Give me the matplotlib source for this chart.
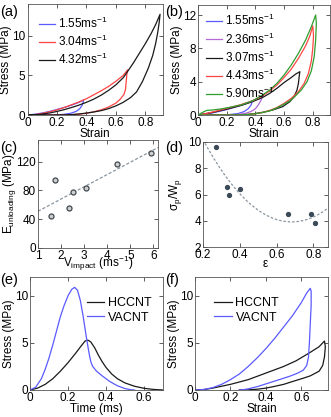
import numpy as np
import matplotlib
matplotlib.use("Agg")
import matplotlib.pyplot as plt

plt.rcParams['font.family'] = ['Liberation Sans', 'DejaVu Sans']
plt.rcParams['font.size'] = 9
plt.rcParams['mathtext.fontset'] = 'custom'
plt.rcParams['mathtext.rm'] = 'Liberation Sans'
plt.rcParams['mathtext.it'] = 'Liberation Sans:italic'

# (a) loops: strain / stress
a_blue_x = [0, 0.05, 0.1, 0.15, 0.2, 0.25, 0.3, 0.35, 0.38, 0.378, 0.37, 0.355, 0.33, 0.29, 0.24, 0.18, 0.1, 0]
a_blue_y = [0, 0.1, 0.25, 0.45, 0.7, 0.95, 1.25, 1.6, 1.9, 1.6, 1.2, 0.8, 0.45, 0.2, 0.07, 0.02, 0, 0]
a_red_x = [0, 0.05, 0.1, 0.15, 0.2, 0.25, 0.3, 0.35, 0.4, 0.45, 0.5, 0.55, 0.6, 0.65, 0.68,
           0.675, 0.67, 0.665, 0.655, 0.63, 0.6, 0.55, 0.5, 0.45, 0.4, 0.35, 0.3, 0.2, 0.1, 0]
a_red_y = [0, 0.05, 0.2, 0.4, 0.65, 0.95, 1.3, 1.65, 2.05, 2.55, 3.05, 3.6, 4.25, 5.0, 5.7,
           5.2, 4.2, 3.2, 2.6, 2.0, 1.5, 1.0, 0.65, 0.4, 0.22, 0.1, 0.04, 0, 0, 0]
a_blk_x = [0, 0.05, 0.1, 0.15, 0.2, 0.25, 0.3, 0.35, 0.4, 0.45, 0.5, 0.55, 0.6, 0.65, 0.68, 0.72,
           0.76, 0.8, 0.84, 0.87, 0.9, 0.895, 0.885, 0.87, 0.85, 0.82, 0.78, 0.74, 0.7, 0.65, 0.6,
           0.55, 0.5, 0.45, 0.4, 0.35, 0.3, 0.25, 0.15, 0]
a_blk_y = [0, 0.03, 0.12, 0.25, 0.45, 0.68, 0.95, 1.25, 1.6, 2.0, 2.5, 3.1, 3.8, 4.7, 5.5, 6.6,
           7.8, 9.0, 10.3, 11.4, 12.7, 11.8, 10.5, 9.0, 7.5, 5.9, 4.2, 2.9, 2.2, 1.6, 1.15,
           0.8, 0.55, 0.38, 0.24, 0.13, 0.05, 0.02, 0, 0]
a_labels = ['1.55ms$^{-1}$', '3.04ms$^{-1}$', '4.32ms$^{-1}$']

# (b) loops
b_blue_x = [0, 0.05, 0.1, 0.15, 0.2, 0.25, 0.3, 0.35, 0.38, 0.37, 0.35, 0.32, 0.28, 0.22, 0.15, 0]
b_blue_y = [0, 0.1, 0.25, 0.45, 0.65, 0.9, 1.15, 1.45, 1.7, 1.2, 0.75, 0.4, 0.18, 0.05, 0, 0]
b_pur_x = [0, 0.05, 0.1, 0.15, 0.2, 0.25, 0.3, 0.35, 0.4, 0.45, 0.44, 0.42, 0.4, 0.37, 0.33, 0.28, 0.2, 0]
b_pur_y = [0, 0.12, 0.28, 0.48, 0.7, 0.95, 1.2, 1.5, 1.85, 2.3, 1.8, 1.2, 0.75, 0.42, 0.2, 0.07, 0, 0]
b_blk_x = [0, 0.05, 0.1, 0.2, 0.3, 0.38, 0.45, 0.5, 0.55, 0.6, 0.65, 0.68, 0.71, 0.705, 0.7, 0.69,
           0.67, 0.64, 0.59, 0.52, 0.46, 0.4, 0.35, 0.3, 0.2, 0]
b_blk_y = [0, 0.15, 0.3, 0.7, 1.15, 1.6, 2.1, 2.6, 3.2, 3.9, 4.5, 4.9, 5.2, 4.6, 3.8, 3.0,
           2.2, 1.6, 1.0, 0.6, 0.35, 0.18, 0.08, 0.02, 0, 0]
b_red_x = [0, 0.05, 0.1, 0.2, 0.3, 0.38, 0.45, 0.5, 0.55, 0.6, 0.65, 0.7, 0.75, 0.78, 0.8,
           0.805, 0.8, 0.79, 0.77, 0.74, 0.7, 0.65, 0.6, 0.55, 0.5, 0.45, 0.4, 0.35, 0.3, 0.2, 0]
b_red_y = [0, 0.15, 0.35, 0.8, 1.25, 1.7, 2.3, 2.9, 3.6, 4.5, 5.5, 6.8, 8.3, 9.5, 10.7,
           9.5, 8.0, 6.5, 5.0, 3.8, 2.8, 2.0, 1.4, 0.9, 0.55, 0.3, 0.15, 0.06, 0.02, 0, 0]
b_grn_x = [0, 0.03, 0.06, 0.1, 0.15, 0.2, 0.3, 0.38, 0.45, 0.5, 0.55, 0.6, 0.65, 0.7, 0.75, 0.79, 0.82,
           0.825, 0.82, 0.81, 0.79, 0.76, 0.72, 0.68, 0.64, 0.6, 0.55, 0.5, 0.45, 0.4, 0.35, 0.3, 0.2, 0]
b_grn_y = [0, 0.3, 0.55, 0.6, 0.7, 0.85, 1.2, 1.7, 2.4, 3.0, 3.8, 4.8, 6.0, 7.4, 9.0, 10.6, 12.0,
           11.0, 9.0, 7.0, 5.3, 4.0, 3.0, 2.3, 1.7, 1.3, 0.85, 0.5, 0.3, 0.15, 0.06, 0.02, 0, 0]
b_labels = ['1.55ms$^{-1}$', '2.36ms$^{-1}$', '3.07ms$^{-1}$', '4.43ms$^{-1}$', '5.90ms$^{-1}$']

# (c) unloading modulus vs impact velocity
c_v = [1.55, 1.75, 2.36, 2.5, 3.07, 4.43, 5.9]
c_E = [44, 95, 55, 78, 84, 117, 132]

# (d) sigma_p / W_p vs strain
d_eps = [0.27, 0.33, 0.34, 0.40, 0.66, 0.79, 0.81]
d_ratio = [9.6, 6.6, 6.0, 6.4, 4.5, 4.5, 3.8]

# (e) stress vs time
e_t_h = [0, 0.04, 0.08, 0.12, 0.16, 0.2, 0.24, 0.27, 0.29, 0.305, 0.32, 0.34, 0.36, 0.38, 0.4,
         0.43, 0.46, 0.5, 0.55, 0.6, 0.65, 0.7]
e_s_h = [0, 0.2, 0.6, 1.2, 2.0, 2.9, 3.9, 4.7, 5.2, 5.3, 5.1, 4.5, 3.7, 3.0, 2.4,
         1.7, 1.2, 0.75, 0.4, 0.18, 0.06, 0]
e_t_v = [0, 0.03, 0.06, 0.08, 0.1, 0.12, 0.14, 0.16, 0.18, 0.2, 0.22, 0.235, 0.25, 0.265, 0.28,
         0.295, 0.31, 0.32, 0.33, 0.35, 0.38, 0.42, 0.46, 0.5, 0.53, 0.55]
e_s_v = [0, 0.3, 1.2, 2.2, 3.4, 4.8, 6.3, 7.8, 9.0, 10.0, 10.7, 10.9, 10.6, 9.5, 7.8,
         5.8, 4.0, 3.0, 2.5, 2.0, 1.5, 0.9, 0.45, 0.15, 0.03, 0]

# (f) stress vs strain
f_x_h = [0, 0.05, 0.1, 0.2, 0.3, 0.4, 0.5, 0.57, 0.65, 0.7, 0.73,
         0.735, 0.73, 0.72, 0.7, 0.65, 0.61, 0.55, 0.5, 0.44, 0.4, 0.35, 0.3, 0.25]
f_y_h = [0, 0.05, 0.2, 0.6, 1.1, 1.8, 2.5, 3.1, 4.0, 4.6, 5.2,
         4.6, 3.5, 2.6, 2.0, 1.5, 1.25, 0.9, 0.6, 0.35, 0.2, 0.08, 0.02, 0]
f_x_v = [0, 0.05, 0.1, 0.15, 0.2, 0.25, 0.3, 0.35, 0.4, 0.45, 0.5, 0.55, 0.6, 0.63, 0.65,
         0.655, 0.655, 0.65, 0.645, 0.64, 0.63, 0.61, 0.58, 0.54, 0.5, 0.45, 0.4, 0.35, 0.3, 0.27, 0.25]
f_y_v = [0, 0.05, 0.25, 0.6, 1.1, 1.7, 2.5, 3.4, 4.4, 5.5, 6.7, 7.9, 9.3, 10.3, 10.8,
         10.5, 9.0, 7.0, 5.0, 3.5, 2.6, 2.1, 1.8, 1.5, 1.25, 0.95, 0.65, 0.35, 0.12, 0.03, 0]

BLUE = '#5a5aff'
RED = '#ff4444'
BLACK = '#1a1a1a'
PURPLE = '#b469d6'
GREEN = '#2e9e2e'

W, H = 331, 417
fig = plt.figure(figsize=(W / 100, H / 100), dpi=100)
LBL = 8.5


def make_ax(left, top, right, bottom):
    ax = fig.add_axes([left / W, 1 - bottom / H, (right - left) / W, (bottom - top) / H])
    ax.tick_params(direction='in', top=True, right=True, length=3, width=0.6, pad=1.5,
                   labelsize=8.5, color='#444444')
    for s in ax.spines.values():
        s.set_linewidth(0.6)
        s.set_color('#555555')
    return ax


lw = 0.9

# (a)
ax = make_ax(27.5, 4, 163, 115)
ax.plot(a_blue_x, a_blue_y, color=BLUE, lw=lw, label=a_labels[0])
ax.plot(a_red_x, a_red_y, color=RED, lw=lw, label=a_labels[1])
ax.plot(a_blk_x, a_blk_y, color=BLACK, lw=lw, label=a_labels[2])
ax.set_xlim(0, 0.92)
ax.set_ylim(0, 14)
ax.set_xticks([0, 0.2, 0.4, 0.6, 0.8])
ax.set_xticklabels(['0', '0.2', '0.4', '0.6', '0.8'])
ax.set_yticks([0, 5, 10])
ax.set_xlabel('Strain', labelpad=-1, fontsize=LBL)
ax.set_ylabel('Stress (MPa)', labelpad=0, fontsize=LBL)
ax.legend(loc='upper left', frameon=False, fontsize=8.5, handlelength=1.3, handletextpad=0.3,
          labelspacing=0.25, borderaxespad=0.6)
fig.text(0.0, 1 - 12 / H, '(a)', fontsize=10.5, va='center')

# (b)
ax = make_ax(198, 5, 330, 115)
ax.plot(b_blue_x, b_blue_y, color=BLUE, lw=lw, label=b_labels[0])
ax.plot(b_pur_x, b_pur_y, color=PURPLE, lw=lw, label=b_labels[1])
ax.plot(b_blk_x, b_blk_y, color=BLACK, lw=lw, label=b_labels[2])
ax.plot(b_red_x, b_red_y, color=RED, lw=lw, label=b_labels[3])
ax.plot(b_grn_x, b_grn_y, color=GREEN, lw=lw, label=b_labels[4])
ax.set_xlim(0, 0.92)
ax.set_ylim(0, 13.2)
ax.set_xticks([0, 0.2, 0.4, 0.6, 0.8])
ax.set_xticklabels(['0', '0.2', '0.4', '0.6', '0.8'])
ax.set_yticks([0, 4, 8, 12])
ax.set_xlabel('Strain', labelpad=-1, fontsize=LBL)
ax.set_ylabel('Stress (MPa)', labelpad=0, fontsize=LBL)
ax.legend(loc='upper left', frameon=False, fontsize=8.5, handlelength=1.3, handletextpad=0.3,
          labelspacing=0.25, borderaxespad=0.3)
fig.text(165 / W, 1 - 12 / H, '(b)', fontsize=10.5, va='center')

# (c)
ax = make_ax(38, 140, 158, 248)
fit = np.polyfit(c_v, c_E, 1)
xs = np.linspace(1, 6.2, 50)
ax.plot(xs, np.polyval(fit, xs), ls=(0, (2.5, 1.5)), color='#8a96a0', lw=0.9)
ax.plot(c_v, c_E, 'o', mfc='#d0d0d0', mec='#404850', ms=3.6, mew=0.9)
ax.set_xlim(1, 6.2)
ax.set_ylim(0, 150)
ax.set_xticks([1, 2, 3, 4, 5, 6])
ax.set_yticks([0, 40, 80, 120])
ax.set_xlabel(r'V$_\mathrm{impact}$ (ms$^{-1}$)', labelpad=-6, fontsize=LBL)
ax.set_ylabel(r'E$_\mathrm{unloading}$ (MPa)', labelpad=-1, fontsize=LBL)
fig.text(0.0, 1 - 148 / H, '(c)', fontsize=10.5, va='center')

# (d)
ax = make_ax(203, 142, 328, 247)
fit2 = np.polyfit(d_eps, d_ratio, 2)
xs = np.linspace(0.2, 0.88, 60)
ax.plot(xs, np.polyval(fit2, xs), ls=(0, (2, 1.5)), color='#8a96a0', lw=0.9)
ax.plot(d_eps, d_ratio, 'o', color='#3c4a58', ms=2.8)
ax.set_xlim(0.2, 0.88)
ax.set_ylim(2, 10)
ax.set_xticks([0.2, 0.4, 0.6, 0.8])
ax.set_yticks([2, 4, 6, 8, 10])
ax.set_xlabel('ε', labelpad=-2, fontsize=LBL)
ax.set_ylabel(r'σ$_\mathrm{p}$/W$_\mathrm{p}$', labelpad=3, fontsize=LBL)
fig.text(165 / W, 1 - 148 / H, '(d)', fontsize=10.5, va='center')

# (e)
ax = make_ax(30, 277, 163, 390)
ax.plot(e_t_h, e_s_h, color=BLACK, lw=lw, label='HCCNT')
ax.plot(e_t_v, e_s_v, color=BLUE, lw=lw, label='VACNT')
ax.set_xlim(0, 0.7)
ax.set_ylim(0, 12)
ax.set_xticks([0, 0.2, 0.4, 0.6])
ax.set_xticklabels(['0', '0.2', '0.4', '0.6'])
ax.set_yticks([0, 5, 10])
ax.set_xlabel('Time (ms)', labelpad=-1, fontsize=LBL)
ax.set_ylabel('Stress (MPa)', labelpad=0, fontsize=LBL)
ax.legend(loc='upper right', bbox_to_anchor=(1.0, 0.92), frameon=False, fontsize=9,
          handlelength=1.4, handletextpad=0.3, labelspacing=0.2)
fig.text(0.0, 1 - 280 / H, '(e)', fontsize=10.5, va='center')

# (f)
ax = make_ax(195, 277, 328, 390)
ax.plot(f_x_h, f_y_h, color=BLACK, lw=lw, label='HCCNT')
ax.plot(f_x_v, f_y_v, color=BLUE, lw=lw, label='VACNT')
ax.set_xlim(0, 0.75)
ax.set_ylim(0, 12)
ax.set_xticks([0, 0.2, 0.4, 0.6])
ax.set_xticklabels(['0', '0.2', '0.4', '0.6'])
ax.set_yticks([0, 5, 10])
ax.set_xlabel('Strain', labelpad=-1, fontsize=LBL)
ax.set_ylabel('Stress (MPa)', labelpad=0, fontsize=LBL)
ax.legend(loc='upper left', bbox_to_anchor=(0.06, 0.92), frameon=False, fontsize=9,
          handlelength=1.4, handletextpad=0.3, labelspacing=0.2)
fig.text(165 / W, 1 - 280 / H, '(f)', fontsize=10.5, va='center')

fig.savefig('out.png', dpi=100)
